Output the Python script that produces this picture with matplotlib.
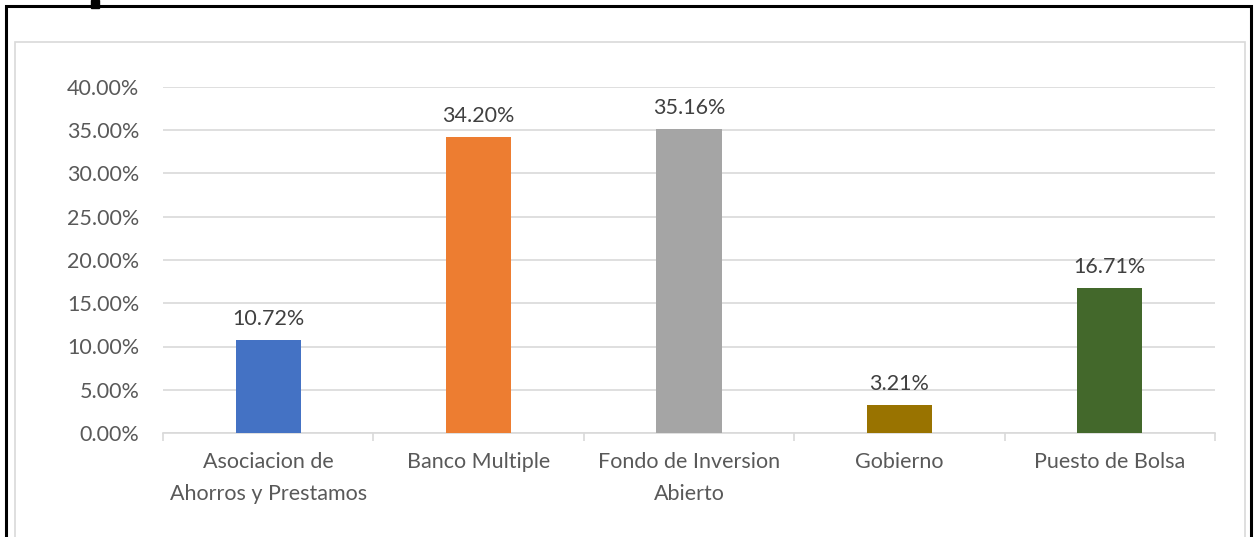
import matplotlib.pyplot as plt
from matplotlib.patches import Rectangle
from matplotlib.ticker import FuncFormatter, MultipleLocator

categories = ["Asociacion de\nAhorros y Prestamos", "Banco Multiple",
              "Fondo de Inversion\nAbierto", "Gobierno", "Puesto de Bolsa"]
values = [0.1072, 0.3420, 0.3516, 0.0321, 0.1671]
labels = ["10.72%", "34.20%", "35.16%", "3.21%", "16.71%"]
colors = ["#4472C4", "#ED7D31", "#A5A5A5", "#997300", "#43682B"]

plt.rcParams['font.family'] = ['Lato', 'DejaVu Sans']

W, H = 1254, 537
fig = plt.figure(figsize=(W / 100, H / 100), dpi=100)

# outer black frame and inner grey chart border
fig.patches.append(Rectangle((6 / W, -0.05), (1251 - 6) / W, 1 - 6 / H + 0.05,
                             transform=fig.transFigure, fill=False,
                             edgecolor="black", linewidth=2.2))
fig.patches.append(Rectangle((15 / W, -0.05), (1245 - 15) / W, 1 - 42 / H + 0.05,
                             transform=fig.transFigure, fill=False,
                             edgecolor="#D9D9D9", linewidth=1.2))
# stem of a cut-off title letter above the frame
fig.patches.append(Rectangle((91 / W, 1 - 8 / H), 8 / W, 8 / H,
                             transform=fig.transFigure, color="black"))

ax = fig.add_axes([163 / W, 1 - 433 / H, (1215 - 163) / W, (433 - 87) / H])
x = range(len(categories))
ax.bar(x, values, width=0.31, color=colors, zorder=3)
for i, v in enumerate(values):
    ax.annotate(labels[i], (i, v), xytext=(0, 8), textcoords="offset points",
                ha="center", va="bottom", fontsize=15.5, color="#404040")

ax.set_xlim(-0.5, len(categories) - 0.5)
ax.set_ylim(0, 0.40)
ax.yaxis.set_major_locator(MultipleLocator(0.05))
ax.yaxis.set_major_formatter(FuncFormatter(lambda v, p: f"{v * 100:.2f}%"))
ax.grid(axis="y", color="#D9D9D9", linewidth=1.2, zorder=0)

for s in ["top", "right", "left"]:
    ax.spines[s].set_visible(False)
ax.spines["bottom"].set_color("#D9D9D9")
ax.spines["bottom"].set_linewidth(1.2)

ax.set_xticks([i - 0.5 for i in range(len(categories) + 1)], minor=False)
ax.set_xticklabels([])
ax.set_xticks(list(x), minor=True)
ax.set_xticklabels(categories, minor=True, fontsize=15.5, color="#595959",
                   linespacing=1.75)
ax.tick_params(axis="x", which="major", length=6, color="#D9D9D9", width=1.2)
ax.tick_params(axis="x", which="minor", length=0, pad=14)
ax.tick_params(axis="y", length=0, labelsize=15.5, labelcolor="#595959", pad=17)

fig.savefig("out.png", dpi=100)
